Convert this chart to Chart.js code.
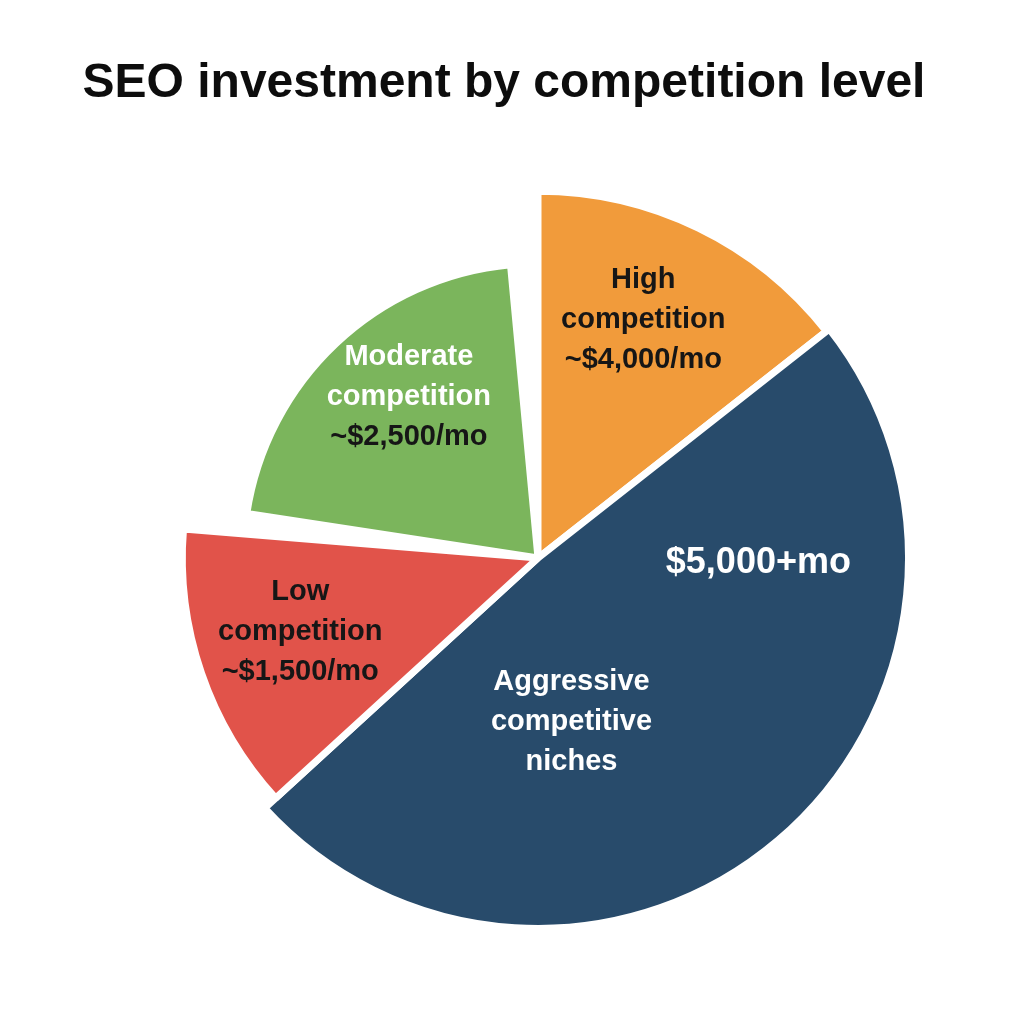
<!DOCTYPE html>
<html>
<head>
<meta charset="utf-8">
<title>SEO investment by competition level</title>
<script src="https://cdn.jsdelivr.net/npm/chart.js@4.4.1/dist/chart.umd.min.js"></script>
<style>
  html, body { margin: 0; padding: 0; background: #ffffff; }
  #wrap { width: 1024px; height: 1024px; }
</style>
</head>
<body>
<div id="wrap"><canvas id="seo-pie" width="1024" height="1024"></canvas></div>
<script>
const chartTitle = 'SEO investment by competition level';
const categories = ['High competition', 'Aggressive competitive niches', 'Low competition', 'Moderate competition'];
const monthlyCost = ['~$4,000/mo', '$5,000+mo', '~$1,500/mo', '~$2,500/mo'];
// how much of the circle each slice takes in the picture (percent)
const share = [14.4, 48.8, 13.1, 21.1];

const sliceColors = ['#F19B3B', '#284B6B', '#E1534A', '#7BB55C'];
// slices are not all the same size, and there is an empty wedge before "Moderate"
const radiusScale = [0.99, 1, 0.96, 0.795];
const gapBefore = [0, 0, 0, 4]; // degrees

const FONT = '"Liberation Sans", Arial, Helvetica, sans-serif';
const dark = '#161616';
const white = '#ffffff';
const nameColor = [dark, white, dark, white];
const costColor = [dark, white, dark, dark];

// where each text block sits: [fraction along the slice angle, fraction of the slice radius]
const labelAt = [[0.46, 0.71], [0.664, 0.453], [0.535, 0.70], [0.56, 0.70]];
const costAt = [null, [0.225, 0.595], null, null];

const words = (s) => s.split(' ');

const sliceShape = {
  id: 'sliceShape',
  afterDatasetsUpdate(chart) {
    const arcs = chart.getDatasetMeta(0).data;
    let shift = 0;
    arcs.forEach((arc, i) => {
      shift += gapBefore[i] * Math.PI / 180;
      arc.startAngle += shift;
      arc.endAngle += shift;
      arc.outerRadius = arc.outerRadius * radiusScale[i];
    });
  }
};

function drawBlock(ctx, arc, at, lines, colors, sizes) {
  const a = arc.startAngle + at[0] * (arc.endAngle - arc.startAngle);
  const r = arc.outerRadius * at[1];
  const cx = arc.x + Math.cos(a) * r;
  const cy = arc.y + Math.sin(a) * r;
  const step = 40;
  const top = cy - (lines.length - 1) * step / 2;
  lines.forEach((t, k) => {
    ctx.font = 'bold ' + sizes[k] + 'px ' + FONT;
    ctx.fillStyle = colors[k];
    ctx.fillText(t, cx, top + k * step);
  });
}

const sliceLabels = {
  id: 'sliceLabels',
  afterDatasetsDraw(chart) {
    const ctx = chart.ctx;
    const arcs = chart.getDatasetMeta(0).data;
    ctx.save();
    ctx.textAlign = 'center';
    ctx.textBaseline = 'middle';
    arcs.forEach((arc, i) => {
      const name = words(categories[i]);
      if (costAt[i]) {
        drawBlock(ctx, arc, costAt[i], [monthlyCost[i]], [costColor[i]], [36]);
        drawBlock(ctx, arc, labelAt[i], name, name.map(() => nameColor[i]), name.map(() => 29));
      } else {
        const lines = name.concat([monthlyCost[i]]);
        const colors = name.map(() => nameColor[i]).concat([costColor[i]]);
        drawBlock(ctx, arc, labelAt[i], lines, colors, lines.map(() => 29));
      }
    });
    ctx.restore();
  }
};

const pageTitle = {
  id: 'pageTitle',
  beforeDraw(chart) {
    const ctx = chart.ctx;
    ctx.save();
    ctx.fillStyle = '#ffffff';
    ctx.fillRect(0, 0, chart.width, chart.height);
    ctx.restore();
  },
  afterDraw(chart) {
    const ctx = chart.ctx;
    ctx.save();
    ctx.font = 'bold 48px ' + FONT;
    ctx.fillStyle = '#0d0d0d';
    ctx.textAlign = 'center';
    ctx.textBaseline = 'alphabetic';
    ctx.fillText(chartTitle, 504, 97);
    ctx.restore();
  }
};

const ctx1 = document.getElementById('seo-pie').getContext('2d');
new Chart(ctx1, {
  type: 'pie',
  data: {
    labels: categories,
    datasets: [{
      data: share,
      backgroundColor: sliceColors,
      borderColor: '#ffffff',
      borderWidth: 7,
      circumference: share.reduce((s, v) => s + v, 0) * 3.6,
      rotation: 0
    }]
  },
  options: {
    responsive: false,
    devicePixelRatio: 1,
    animation: false,
    events: [],
    layout: {
      padding: { left: 164, right: 112, top: 184, bottom: 92 }
    },
    plugins: {
      legend: { display: false },
      tooltip: { enabled: false },
      title: { display: false }
    }
  },
  plugins: [sliceShape, sliceLabels, pageTitle]
});
</script>
</body>
</html>
